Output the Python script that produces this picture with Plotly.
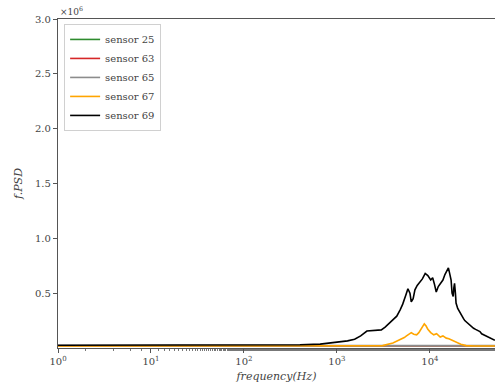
import plotly.graph_objects as go

# ---- data ----
sensors = ["sensor 25", "sensor 63", "sensor 65", "sensor 67", "sensor 69"]
colors = ["#2e8b2e", "#d62728", "#8c8c8c", "#ffa500", "#000000"]

flat_freq = [1, 3, 10, 30, 100, 300, 1000, 3000, 10000, 30000, 50000]
s25_val = [0.020e6, 0.020e6, 0.020e6, 0.020e6, 0.020e6, 0.020e6, 0.020e6, 0.020e6, 0.020e6, 0.020e6, 0.020e6]
s63_val = [0.021e6, 0.021e6, 0.021e6, 0.021e6, 0.021e6, 0.021e6, 0.021e6, 0.021e6, 0.021e6, 0.021e6, 0.021e6]
s65_val = [0.022e6, 0.022e6, 0.022e6, 0.022e6, 0.022e6, 0.022e6, 0.022e6, 0.022e6, 0.022e6, 0.022e6, 0.022e6]

s67_freq = [1, 10, 100, 1000, 3100, 4000, 4800, 5300, 5600, 6000, 6300, 6700, 7200, 7600,
            7900, 8300, 8700, 9100, 9500, 10200, 11000, 11800, 12900, 13800, 15000,
            16000, 17000, 18200, 19500, 21500, 24500, 30000, 50000]
s67_val = [0.018e6, 0.018e6, 0.018e6, 0.019e6, 0.022e6, 0.045e6, 0.075e6, 0.095e6, 0.11e6,
           0.13e6, 0.14e6, 0.125e6, 0.12e6, 0.14e6, 0.16e6, 0.19e6, 0.22e6, 0.2e6, 0.17e6,
           0.14e6, 0.12e6, 0.13e6, 0.10e6, 0.11e6, 0.09e6, 0.085e6, 0.075e6, 0.06e6,
           0.05e6, 0.035e6, 0.022e6, 0.018e6, 0.018e6]

s69_freq = [1, 10, 100, 400, 660, 1000, 1300, 1550, 1800, 2100, 2600, 3000, 3300, 3600,
            4000, 4400, 4800, 5100, 5500, 5800, 6100, 6300, 6600, 6900, 7300, 7800, 8300,
            8900, 9500, 10200, 10700, 11200, 11700, 12300, 12900, 13400, 13800, 14500,
            15200, 15800, 16300, 16900, 17300, 17800, 18100, 18400, 18800, 19100, 19900,
            21000, 22000, 22900, 23700, 24500, 25500, 27000, 28500, 29500, 31000, 32500,
            34500, 36000, 38000, 39500, 41000, 43000, 45000, 47500, 50000]
s69_val = [0.025e6, 0.025e6, 0.026e6, 0.03e6, 0.035e6, 0.05e6, 0.065e6, 0.08e6, 0.11e6,
           0.155e6, 0.16e6, 0.165e6, 0.19e6, 0.22e6, 0.26e6, 0.29e6, 0.35e6, 0.4e6,
           0.48e6, 0.54e6, 0.5e6, 0.42e6, 0.45e6, 0.53e6, 0.57e6, 0.6e6, 0.63e6,
           0.68e6, 0.66e6, 0.62e6, 0.64e6, 0.58e6, 0.51e6, 0.56e6, 0.59e6, 0.61e6,
           0.62e6, 0.67e6, 0.71e6, 0.73e6, 0.68e6, 0.62e6, 0.5e6, 0.47e6, 0.55e6,
           0.59e6, 0.5e6, 0.41e6, 0.36e6, 0.32e6, 0.3e6, 0.27e6, 0.25e6, 0.24e6,
           0.22e6, 0.21e6, 0.19e6, 0.18e6, 0.17e6, 0.16e6, 0.15e6, 0.13e6, 0.12e6,
           0.11e6, 0.10e6, 0.095e6, 0.085e6, 0.08e6, 0.07e6]

y_tickvals = [0.5e6, 1.0e6, 1.5e6, 2.0e6, 2.5e6, 3.0e6]
y_ticktext = ["0.5", "1.0", "1.5", "2.0", "2.5", "3.0"]
x_tickvals = [1, 10, 100, 1000, 10000]
x_ticktext = ["10<sup>0</sup>", "10<sup>1</sup>", "10<sup>2</sup>", "10<sup>3</sup>", "10<sup>4</sup>"]

series = [
    (flat_freq, s25_val),
    (flat_freq, s63_val),
    (flat_freq, s65_val),
    (s67_freq, s67_val),
    (s69_freq, s69_val),
]

FONT = "DejaVu Serif"
TXT = "#444444"

fig = go.Figure()
for name, color, (fx, fy) in zip(sensors, colors, series):
    fig.add_trace(go.Scatter(x=fx, y=fy, mode="lines", name=name,
                             line=dict(color=color, width=1.6)))

fig.update_layout(
    width=495, height=390,
    margin=dict(l=58, r=0, t=19, b=42, autoexpand=False),
    plot_bgcolor="white", paper_bgcolor="white",
    font=dict(family=FONT, size=10, color=TXT),
    showlegend=True,
    legend=dict(x=0.014, y=0.985, xanchor="left", yanchor="top",
                bgcolor="white", bordercolor="#d0d0d0", borderwidth=1,
                font=dict(family=FONT, size=10, color=TXT),
                tracegroupgap=0, itemwidth=30),
    xaxis=dict(type="log", range=[0, 4.70], automargin=False,
               tickvals=x_tickvals, ticktext=x_ticktext,
               ticks="outside", ticklen=4, tickcolor="#555",
               showline=True, linecolor="#555", linewidth=1.2, mirror=True,
               showgrid=False, zeroline=False,
               minor=dict(ticks="outside", ticklen=2, tickcolor="#777", showgrid=False),
               title=dict(text="<i>frequency(Hz)</i>", font=dict(family=FONT, size=11, color=TXT),
                          standoff=6),
               tickfont=dict(family=FONT, size=10, color=TXT)),
    yaxis=dict(range=[0, 3.0e6], automargin=False,
               tickvals=y_tickvals, ticktext=y_ticktext,
               ticks="outside", ticklen=4, tickcolor="#555",
               showline=True, linecolor="#555", linewidth=1.2,
               showgrid=False, zeroline=False,
               title=dict(text="<i>f.PSD</i>", font=dict(family=FONT, size=11, color=TXT),
                          standoff=10),
               tickfont=dict(family=FONT, size=10, color=TXT)),
)

fig.add_annotation(text="×10<sup>6</sup>", xref="paper", yref="paper",
                   x=0.0, y=1.0, xanchor="left", yanchor="bottom",
                   showarrow=False, font=dict(family=FONT, size=9, color=TXT))

fig.write_html("out.html", config={"displayModeBar": False},
               post_script="document.body.style.margin='0';document.body.style.padding='0';")
